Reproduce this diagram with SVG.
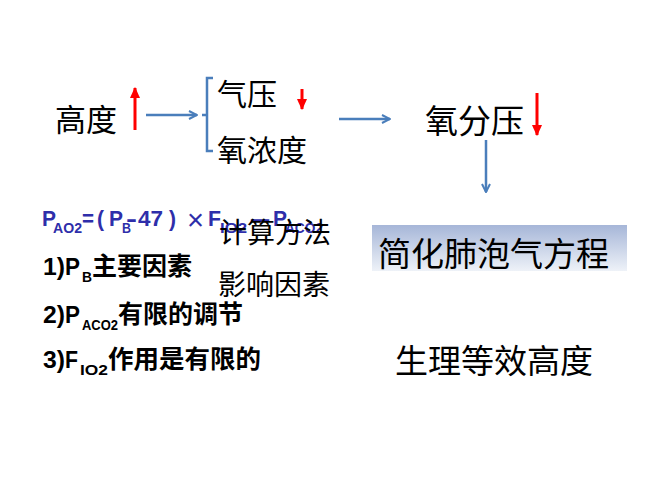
<svg xmlns="http://www.w3.org/2000/svg" width="668" height="502" viewBox="0 0 668 502">
<style>
.t{font-family:"Noto Sans CJK SC",sans-serif;fill:#000}
.b{font-family:"Liberation Sans","Noto Sans CJK SC",sans-serif;font-weight:bold;fill:#000}
.f{font-family:"Liberation Sans","Noto Sans CJK SC",sans-serif;font-weight:bold;fill:#2e2eaa}
.blue{stroke:#4a7ebb;stroke-width:2.5;fill:none}
.red{stroke:#ff0000;stroke-width:3;fill:none}
</style>
<defs>
<marker id="ab" viewBox="0 0 10 10" refX="9" refY="5" markerWidth="4" markerHeight="4" orient="auto" markerUnits="strokeWidth">
<path d="M1,1 L9,5 L1,9" fill="none" stroke="#4a7ebb" stroke-width="2"/>
</marker>
<marker id="ar" viewBox="0 0 10 10" refX="9" refY="5" markerWidth="3.8" markerHeight="3.8" orient="auto" markerUnits="strokeWidth">
<path d="M0,0.5 L10,5 L0,9.5 Z" fill="#ff0000"/>
</marker>
<linearGradient id="g" x1="0" y1="0" x2="0" y2="1">
<stop offset="0" stop-color="#a6b6d8"/>
<stop offset="1" stop-color="#eef2f8"/>
</linearGradient>
</defs>
<rect width="668" height="502" fill="#ffffff"/>
<g id="connectors">
<path class="blue" d="M146,115 H197" marker-end="url(#ab)"/>
<path class="blue" d="M213,78 H207 V151 H213 M202,115 H207"/>
<path class="blue" d="M339,119 H390" marker-end="url(#ab)"/>
<path class="blue" d="M486,140 V192" marker-end="url(#ab)"/>
<path class="red" d="M135,130 V88" marker-end="url(#ar)"/>
<path class="red" d="M302,89 V109" marker-end="url(#ar)"/>
<path class="red" d="M537,93 V135" marker-end="url(#ar)"/>
</g>
<g id="n-altitude"><text class="t" x="55" y="131" font-size="31">高度</text></g>
<g id="n-pressure"><text class="t" x="217" y="105" font-size="30">气压</text></g>
<g id="n-o2conc"><text class="t" x="217" y="161" font-size="30">氧浓度</text></g>
<g id="n-po2"><text class="t" x="425" y="133" font-size="33">氧分压</text></g>
<g id="n-formula" class="f">
<text x="42" y="226" font-size="22" textLength="14" lengthAdjust="spacingAndGlyphs">P</text>
<text x="53" y="233" font-size="14" textLength="29" lengthAdjust="spacingAndGlyphs">AO2</text>
<text x="82" y="226" font-size="22" textLength="12" lengthAdjust="spacingAndGlyphs">=</text>
<text x="97" y="226" font-size="22" textLength="7" lengthAdjust="spacingAndGlyphs">(</text>
<text x="109" y="226" font-size="22" textLength="14" lengthAdjust="spacingAndGlyphs">P</text>
<text x="122" y="233" font-size="14" textLength="9" lengthAdjust="spacingAndGlyphs">B</text>
<text x="126" y="226" font-size="22" textLength="11" lengthAdjust="spacingAndGlyphs">-</text>
<text x="138" y="226" font-size="22" textLength="25" lengthAdjust="spacingAndGlyphs">47</text>
<text x="169" y="226" font-size="22" textLength="7" lengthAdjust="spacingAndGlyphs">)</text>
<text x="187" y="230" font-size="29" font-weight="normal" textLength="17" lengthAdjust="spacingAndGlyphs">×</text>
<text x="208" y="226" font-size="22" textLength="13" lengthAdjust="spacingAndGlyphs">F</text>
<text x="220" y="233" font-size="14" textLength="27" lengthAdjust="spacingAndGlyphs">IO2</text>
<text x="248" y="226" font-size="22" textLength="24" lengthAdjust="spacingAndGlyphs">-</text>
<text x="273" y="226" font-size="22" textLength="14" lengthAdjust="spacingAndGlyphs">P</text>
<text x="285" y="233" font-size="14" textLength="38" lengthAdjust="spacingAndGlyphs">ACO2</text>
</g>
<g id="n-calc"><text class="t" x="219" y="243" font-size="28">计算方法</text></g>
<g id="n-factors"><text class="t" x="218" y="295" font-size="28">影响因素</text></g>
<g id="n-item1" class="b">
<text x="43" y="275" font-size="24" textLength="22" lengthAdjust="spacingAndGlyphs">1)</text>
<text x="65" y="275" font-size="24" textLength="15" lengthAdjust="spacingAndGlyphs">P</text>
<text x="82" y="282" font-size="14" textLength="10" lengthAdjust="spacingAndGlyphs">B</text>
<text x="92" y="275" font-size="25">主要因素</text>
</g>
<g id="n-item2" class="b">
<text x="43" y="323" font-size="24" textLength="22" lengthAdjust="spacingAndGlyphs">2)</text>
<text x="65" y="323" font-size="24" textLength="15" lengthAdjust="spacingAndGlyphs">P</text>
<text x="82" y="330" font-size="14" textLength="36" lengthAdjust="spacingAndGlyphs">ACO2</text>
<text x="118" y="323" font-size="25">有限的调节</text>
</g>
<g id="n-item3" class="b">
<text x="43" y="368" font-size="24" textLength="22" lengthAdjust="spacingAndGlyphs">3)</text>
<text x="65" y="368" font-size="24" textLength="13" lengthAdjust="spacingAndGlyphs">F</text>
<text x="80" y="375" font-size="14" textLength="28" lengthAdjust="spacingAndGlyphs">IO2</text>
<text x="108" y="368" font-size="25.5">作用是有限的</text>
</g>
<g id="n-simplified">
<rect x="372" y="225" width="255" height="46" fill="url(#g)"/>
<text class="t" x="378" y="266" font-size="33">简化肺泡气方程</text>
</g>
<g id="n-physio"><text class="t" x="395" y="373" font-size="33">生理等效高度</text></g>
</svg>
